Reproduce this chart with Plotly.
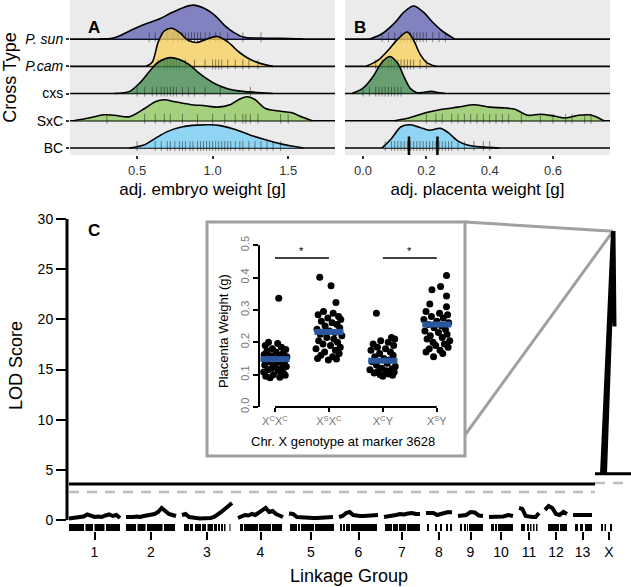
import plotly.graph_objects as go

W, H = 631, 587
FONT = "Liberation Sans, Arial, Helvetica, sans-serif"

# ---------------- Panels A / B : ridgeline data ----------------
cross_types = ["P. sun", "P.cam", "cxs", "SxC", "BC"]
cross_ticktext = ["<i>P. sun</i>", "<i>P.cam</i>", "cxs", "SxC", "BC"]
ridge_colors = ["rgba(92,96,178,0.75)", "rgba(250,208,88,0.75)", "rgba(62,135,75,0.75)",
                "rgba(142,199,88,0.75)", "rgba(112,204,244,0.75)"]

# adj. embryo weight densities (x in g, relative height)
emb_psun_x = [0.25, 0.35, 0.45, 0.55, 0.65, 0.72, 0.80, 0.87, 0.95, 1.02, 1.08, 1.14, 1.20, 1.30, 1.45, 1.60]
emb_psun_h = [0, 0.05, 0.30, 0.55, 0.75, 0.95, 1.15, 1.25, 1.12, 0.85, 0.50, 0.25, 0.08, 0.04, 0.03, 0]
emb_pcam_x = [0.56, 0.60, 0.64, 0.68, 0.73, 0.78, 0.84, 0.90, 0.96, 1.03, 1.10, 1.18, 1.25, 1.32, 1.40]
emb_pcam_h = [0, 0.15, 0.90, 1.30, 1.40, 1.25, 0.95, 0.88, 1.00, 1.10, 0.90, 0.50, 0.25, 0.10, 0]
emb_cxs_x = [0.35, 0.45, 0.52, 0.58, 0.64, 0.72, 0.78, 0.84, 0.90, 0.96, 1.03, 1.10, 1.20, 1.30, 1.40]
emb_cxs_h = [0, 0.08, 0.40, 0.80, 1.15, 1.32, 1.25, 1.08, 0.80, 0.55, 0.32, 0.18, 0.08, 0.04, 0]
emb_sxc_x = [0.08, 0.18, 0.28, 0.35, 0.45, 0.55, 0.62, 0.68, 0.75, 0.85, 0.95, 1.03, 1.12, 1.18,
             1.23, 1.28, 1.35, 1.45, 1.52, 1.60, 1.66]
emb_sxc_h = [0, 0.10, 0.22, 0.20, 0.15, 0.45, 0.70, 0.77, 0.70, 0.60, 0.55, 0.50, 0.60, 0.80,
             0.88, 0.78, 0.45, 0.35, 0.30, 0.12, 0]
emb_bc_x = [0.45, 0.55, 0.62, 0.70, 0.80, 0.90, 0.98, 1.05, 1.15, 1.25, 1.35, 1.45, 1.52, 1.60]
emb_bc_h = [0, 0.12, 0.35, 0.60, 0.78, 0.84, 0.85, 0.82, 0.68, 0.47, 0.30, 0.15, 0.07, 0]

emb_rug_psun = [0.58, 0.62, 0.66, 0.70, 0.74, 0.77, 0.80, 0.82, 0.84, 0.86, 0.88, 0.90, 0.92, 0.95,
                0.98, 1.02, 1.05, 1.10, 1.20, 1.32]
emb_rug_pcam = [0.64, 0.68, 0.70, 0.72, 0.74, 0.76, 0.78, 0.82, 0.88, 0.95, 1.00, 1.02, 1.04, 1.06,
                1.10, 1.15, 1.20, 1.24, 1.30]
emb_rug_cxs = [0.50, 0.55, 0.60, 0.63, 0.66, 0.68, 0.70, 0.72, 0.74, 0.76, 0.80, 0.84, 0.88, 0.95,
               1.05, 1.25]
emb_rug_sxc = [0.30, 0.55, 0.62, 0.68, 0.72, 0.80, 0.90, 1.00, 1.08, 1.15, 1.20, 1.22, 1.25, 1.30,
               1.45, 1.50]
emb_rug_bc = [0.50, 0.62, 0.66, 0.70, 0.72, 0.75, 0.78, 0.80, 0.82, 0.85, 0.87, 0.90, 0.92, 0.94,
              0.96, 0.98, 1.00, 1.02, 1.04, 1.06, 1.08, 1.10, 1.12, 1.15, 1.18, 1.20, 1.24, 1.28,
              1.32, 1.36, 1.40, 1.45]

# adj. placenta weight densities
pla_psun_x = [0.02, 0.06, 0.10, 0.13, 0.16, 0.19, 0.22, 0.25, 0.29]
pla_psun_h = [0, 0.20, 0.60, 1.00, 1.22, 1.00, 0.62, 0.30, 0]
pla_pcam_x = [0.01, 0.05, 0.08, 0.11, 0.14, 0.16, 0.18, 0.20, 0.23]
pla_pcam_h = [0, 0.25, 0.60, 1.00, 1.26, 0.95, 0.45, 0.15, 0]
pla_cxs_x = [-0.035, 0.0, 0.03, 0.06, 0.085, 0.11, 0.13, 0.15, 0.17, 0.19, 0.215, 0.24, 0.26]
pla_cxs_h = [0, 0.20, 0.60, 1.15, 1.36, 1.10, 0.60, 0.18, 0.03, 0.04, 0.08, 0.03, 0]
pla_sxc_x = [0.10, 0.15, 0.20, 0.25, 0.30, 0.35, 0.40, 0.45, 0.48, 0.52, 0.56, 0.60, 0.64, 0.68, 0.72, 0.76]
pla_sxc_h = [0, 0.12, 0.30, 0.42, 0.50, 0.59, 0.50, 0.47, 0.42, 0.20, 0.24, 0.18, 0.10, 0.20, 0.21, 0]
pla_bc_x = [0.06, 0.09, 0.12, 0.15, 0.18, 0.21, 0.245, 0.27, 0.30, 0.33, 0.37, 0.43]
pla_bc_h = [0, 0.35, 0.78, 0.85, 0.75, 0.65, 0.72, 0.55, 0.25, 0.11, 0.04, 0]

pla_rug_psun = [0.06, 0.08, 0.10, 0.12, 0.13, 0.14, 0.15, 0.16, 0.17, 0.18, 0.19, 0.20, 0.22, 0.24, 0.26]
pla_rug_pcam = [0.04, 0.06, 0.08, 0.09, 0.10, 0.11, 0.12, 0.13, 0.14, 0.15, 0.16, 0.18, 0.20]
pla_rug_cxs = [0.00, 0.02, 0.04, 0.05, 0.06, 0.07, 0.08, 0.09, 0.10, 0.11, 0.12]
pla_rug_sxc = [0.20, 0.23, 0.25, 0.28, 0.30, 0.32, 0.34, 0.36, 0.38, 0.40, 0.42, 0.44, 0.46, 0.50,
               0.56, 0.60, 0.64, 0.66, 0.70, 0.72]
pla_rug_bc = [0.07, 0.09, 0.10, 0.11, 0.12, 0.13, 0.14, 0.15, 0.16, 0.17, 0.18, 0.19, 0.20, 0.21,
              0.22, 0.23, 0.24, 0.25, 0.26, 0.27, 0.28, 0.30, 0.32, 0.35, 0.38, 0.40]
pla_bc_marks = [0.145, 0.235]

emb_ticks = [0.5, 1.0, 1.5]
pla_ticks = [0.0, 0.2, 0.4, 0.6]

# ---------------- Panel C : QTL scan ----------------
chroms = ["1", "2", "3", "4", "5", "6", "7", "8", "9", "10", "11", "12", "13", "X"]
chrom_len = [51, 50, 50, 45, 44, 39, 36, 26, 25, 24, 20, 22, 19, 22]
lod_auto = [
    [0.15, 0.2, 0.2, 0.3, 0.35, 0.55, 0.4, 0.3, 0.35, 0.3, 0.45, 0.55, 0.4, 0.5, 0.2],
    [0.3, 0.25, 0.3, 0.35, 0.3, 0.4, 0.45, 0.5, 0.6, 0.8, 1.2, 0.9, 0.6, 0.5, 0.4],
    [0.5, 0.6, 0.3, 0.2, 0.2, 0.15, 0.15, 0.2, 0.2, 0.3, 0.5, 0.8, 1.1, 1.4, 1.7],
    [0.2, 0.3, 0.5, 0.45, 0.6, 0.5, 0.7, 0.9, 1.2, 0.8, 0.9, 0.6, 0.4, 0.3],
    [0.65, 0.6, 0.3, 0.25, 0.2, 0.2, 0.2, 0.2, 0.2, 0.2, 0.25, 0.3],
    [0.3, 0.4, 0.7, 0.8, 0.5, 0.4, 0.4, 0.4, 0.4, 0.45, 0.5, 0.5],
    [0.3, 0.35, 0.4, 0.5, 0.6, 0.55, 0.65, 0.7, 0.6, 0.6],
    [0.7, 0.75, 0.7, 0.5, 0.55, 0.7, 0.8, 0.75],
    [0.4, 0.45, 0.5, 0.8, 0.75, 0.45, 0.4],
    [0.3, 0.3, 0.35, 0.35, 0.5, 0.4],
    [1.2, 1.1, 0.4, 0.3, 0.3, 0.3, 0.7],
    [1.0, 1.4, 1.2, 0.6, 0.5, 0.8, 0.6],
    [0.5, 0.5, 0.5, 0.5, 0.5],
]
lod_x_pos = [4, 15, 7, 15.5, 16.5]          # cM within X
lod_x_val = [4.6, 28.8, 4.6, 28.8, 19.3]
thr_solid = [3.6, 4.6]                      # autosomes, X
thr_dashed = [2.8, 3.7]
marker_blocks = [
    [[0, 15], [16.5, 24], [25.5, 35.5], [37, 51]],
    [[0, 10], [11.5, 19.5], [21, 36.5], [38, 49]],
    [[2, 7], [8, 11], [13, 19], [20, 24], [25.5, 31], [32, 35], [36, 38], [39, 41], [42, 43.5], [47.5, 48.5]],
    [[2, 5], [6, 20], [21, 33], [34, 44]],
    [[1, 8], [9, 11], [12, 25], [26, 45]],
    [[1, 3], [4, 6], [7, 11], [12, 38]],
    [[1, 8], [9, 14], [15, 22], [23, 36]],
    [[1, 3], [9, 11], [14, 16], [20, 22], [24, 26]],
    [[2, 4], [6, 8], [9, 10], [11, 25]],
    [[2, 5], [6, 8], [9, 24]],
    [[2, 6], [8, 10], [11, 12.5], [14, 15.5], [17, 18.5]],
    [[3, 14], [15, 22]],
    [[2, 5], [7, 10], [12, 19]],
    [[3, 5], [6.5, 8], [12, 14]],
]

# ---------------- Inset : placenta weight by genotype ----------------
genotypes = ["X<sup>C</sup>X<sup>C</sup>", "X<sup>S</sup>X<sup>C</sup>", "X<sup>C</sup>Y", "X<sup>S</sup>Y"]
pw_xcxc = [0.336, 0.200, 0.196, 0.190, 0.185, 0.180, 0.178, 0.172, 0.170, 0.165, 0.162, 0.160, 0.158,
           0.155, 0.150, 0.148, 0.145, 0.142, 0.140, 0.138, 0.135, 0.130, 0.128, 0.125, 0.120, 0.118,
           0.115, 0.112, 0.108, 0.105, 0.100, 0.098, 0.095, 0.092, 0.090]
jit_xcxc = [0.07, -0.12, 0.05, -0.18, 0.12, -0.05, 0.20, -0.15, 0.02, 0.15, -0.20, 0.08, -0.08, 0.22,
            -0.02, 0.10, -0.16, 0.18, -0.10, 0.04, 0.14, -0.19, 0.00, 0.21, -0.06, 0.11, -0.13, 0.06,
            -0.21, 0.16, -0.03, 0.19, -0.17, 0.09, -0.09]
pw_xsxc = [0.401, 0.375, 0.323, 0.295, 0.290, 0.285, 0.280, 0.275, 0.270, 0.265, 0.260, 0.255, 0.250,
           0.245, 0.240, 0.235, 0.230, 0.225, 0.220, 0.215, 0.210, 0.205, 0.200, 0.195, 0.190, 0.185,
           0.180, 0.175, 0.170, 0.165, 0.160, 0.155, 0.150, 0.148, 0.145]
jit_xsxc = [-0.17, 0.04, 0.13, -0.10, 0.08, -0.20, 0.18, -0.02, 0.22, -0.14, 0.06, 0.15, -0.07, 0.20,
            -0.22, 0.01, 0.11, -0.16, 0.24, -0.04, 0.09, -0.19, 0.16, -0.11, 0.03, 0.21, -0.24, 0.12,
            -0.08, 0.19, -0.15, 0.07, -0.21, 0.14, -0.01]
pw_xcy = [0.290, 0.215, 0.210, 0.205, 0.200, 0.195, 0.190, 0.185, 0.180, 0.175, 0.170, 0.165, 0.160,
          0.155, 0.150, 0.145, 0.140, 0.135, 0.130, 0.125, 0.120, 0.118, 0.115, 0.112, 0.110, 0.108,
          0.105, 0.102, 0.100, 0.098, 0.095]
jit_xcy = [-0.12, 0.16, 0.22, -0.04, 0.10, -0.18, 0.20, -0.10, 0.05, -0.22, 0.14, -0.06, 0.19, -0.15,
           0.02, 0.12, -0.20, 0.08, -0.12, 0.23, -0.02, 0.17, -0.24, 0.06, -0.09, 0.21, -0.16, 0.11,
           -0.05, 0.18, 0.00]
pw_xsy = [0.406, 0.372, 0.362, 0.343, 0.318, 0.310, 0.295, 0.290, 0.285, 0.280, 0.275, 0.270, 0.265,
          0.260, 0.255, 0.250, 0.245, 0.240, 0.235, 0.230, 0.225, 0.220, 0.215, 0.210, 0.205, 0.200,
          0.195, 0.190, 0.185, 0.180, 0.175, 0.170, 0.165, 0.155]
jit_xsy = [0.18, 0.07, -0.09, 0.18, -0.13, 0.18, -0.20, 0.05, 0.20, -0.10, 0.12, -0.24, 0.00, 0.22,
           -0.16, 0.09, -0.05, 0.16, -0.22, 0.03, 0.19, -0.12, 0.10, -0.18, 0.24, -0.07, 0.14, -0.02,
           0.21, -0.14, 0.06, -0.20, 0.11, -0.06]
pw_means = [0.148, 0.232, 0.143, 0.255]
sig_pairs = [(1, 2), (3, 4)]
sig_y = 0.46

# ================= helpers =================
def px_x(px):
    return px / W


def px_y(py):
    return 1 - py / H


fig = go.Figure()
A_range = [0.056, 1.81]
B_range = [-0.057, 0.78]
ridge_yrange = [-0.26, 5.44]

emb_sets = [(emb_psun_x, emb_psun_h, emb_rug_psun), (emb_pcam_x, emb_pcam_h, emb_rug_pcam),
            (emb_cxs_x, emb_cxs_h, emb_rug_cxs), (emb_sxc_x, emb_sxc_h, emb_rug_sxc),
            (emb_bc_x, emb_bc_h, emb_rug_bc)]
pla_sets = [(pla_psun_x, pla_psun_h, pla_rug_psun), (pla_pcam_x, pla_pcam_h, pla_rug_pcam),
            (pla_cxs_x, pla_cxs_h, pla_rug_cxs), (pla_sxc_x, pla_sxc_h, pla_rug_sxc),
            (pla_bc_x, pla_bc_h, pla_rug_bc)]

for i, name in enumerate(cross_types):
    base = len(cross_types) - 1 - i
    for (xa, ya, xr, sets) in [("x", "y", A_range, emb_sets), ("x2", "y2", B_range, pla_sets)]:
        xs, hs, rug = sets[i]
        fig.add_trace(go.Scatter(x=xr, y=[base, base], mode="lines", xaxis=xa, yaxis=ya,
                                 line=dict(color="black", width=1.6), hoverinfo="skip", showlegend=False))
        fig.add_trace(go.Scatter(x=xs, y=[base + h for h in hs], mode="lines", fill="toself",
                                 fillcolor=ridge_colors[i], xaxis=xa, yaxis=ya, name=name,
                                 line=dict(color="black", width=1.6, shape="spline", smoothing=0.9),
                                 showlegend=False))
        fig.add_trace(go.Scatter(x=rug, y=[base + 0.07] * len(rug), mode="markers", xaxis=xa, yaxis=ya,
                                 marker=dict(symbol="line-ns", size=7,
                                             line=dict(width=1, color="rgba(30,30,30,0.5)")),
                                 hoverinfo="skip", showlegend=False))

# BC placenta quantile marks
for v in pla_bc_marks:
    fig.add_trace(go.Scatter(x=[v, v], y=[ridge_yrange[0], 0.42], mode="lines", xaxis="x2", yaxis="y2",
                             line=dict(color="black", width=2.5), hoverinfo="skip", showlegend=False))

# ---------- Panel C ----------
gap = 6
starts = []
pos = 2
for L in chrom_len:
    starts.append(pos)
    pos += L + gap
C_range = [0, 564]
C_yrange = [(520 - 531) / 10.03, (520 - 200) / 10.03]
mids = [s + L / 2 for s, L in zip(starts, chrom_len)]

lx, ly = [], []
for s, L, vals in zip(starts, chrom_len, lod_auto):
    n = len(vals)
    lx += [s + L * k / (n - 1) for k in range(n)] + [None]
    ly += vals + [None]
lx += [starts[-1] + p for p in lod_x_pos]
ly += lod_x_val
fig.add_trace(go.Scatter(x=lx, y=ly, mode="lines", xaxis="x3", yaxis="y3",
                         line=dict(color="black", width=4), name="LOD", showlegend=False))

# marker rug
rx, ry = [], []
for s, blocks in zip(starts, marker_blocks):
    for a, b in blocks:
        rx += [s + a, s + b, None]
        ry += [-0.75, -0.75, None]
fig.add_trace(go.Scatter(x=rx, y=ry, mode="lines", xaxis="x3", yaxis="y3",
                         line=dict(color="black", width=7), hoverinfo="skip", showlegend=False))

# thresholds
auto_end = (starts[-2] + chrom_len[-2] + starts[-1]) / 2
seg = [(starts[0], auto_end), (auto_end, C_range[1])]
for (a, b), t in zip(seg, thr_dashed):
    fig.add_trace(go.Scatter(x=[a, b], y=[t, t], mode="lines", xaxis="x3", yaxis="y3",
                             line=dict(color="#bdbdbd", width=2.5, dash="10px,8px"),
                             hoverinfo="skip", showlegend=False))
for (a, b), t in zip(seg, thr_solid):
    fig.add_trace(go.Scatter(x=[a, b], y=[t, t], mode="lines", xaxis="x3", yaxis="y3",
                             line=dict(color="black", width=3), hoverinfo="skip", showlegend=False))

# ---------- Inset ----------
groups = [(pw_xcxc, jit_xcxc), (pw_xsxc, jit_xsxc), (pw_xcy, jit_xcy), (pw_xsy, jit_xsy)]
for gi, (vals, jit) in enumerate(groups):
    fig.add_trace(go.Scatter(x=[gi + 1 + j for j in jit], y=vals, mode="markers", xaxis="x4", yaxis="y4",
                             marker=dict(color="black", size=7), showlegend=False,
                             name=genotypes[gi]))
for gi, m in enumerate(pw_means):
    fig.add_trace(go.Scatter(x=[gi + 1 - 0.27, gi + 1 + 0.27], y=[m, m], mode="lines", xaxis="x4", yaxis="y4",
                             line=dict(color="#2b579e", width=6), hoverinfo="skip", showlegend=False))
for a, b in sig_pairs:
    fig.add_trace(go.Scatter(x=[a, b], y=[sig_y, sig_y], mode="lines", xaxis="x4", yaxis="y4",
                             line=dict(color="black", width=1.5), hoverinfo="skip", showlegend=False))

I_xrange = [0.704, 4.43]
I_yrange = [0, 0.516]
I_xdom = [px_x(259), px_x(460)]
I_ydom = [px_y(407), px_y(240)]

shapes = [
    dict(type="rect", xref="paper", yref="paper", x0=px_x(70), x1=px_x(335), y0=px_y(155), y1=px_y(0),
         fillcolor="#ebebeb", line=dict(width=0), layer="below"),
    dict(type="rect", xref="paper", yref="paper", x0=px_x(345), x1=px_x(610), y0=px_y(155), y1=px_y(0),
         fillcolor="#ebebeb", line=dict(width=0), layer="below"),
    dict(type="rect", xref="paper", yref="paper", x0=px_x(207), x1=px_x(465), y0=px_y(456), y1=px_y(222),
         fillcolor="white", line=dict(color="#a0a0a0", width=3), layer="below"),
    dict(type="line", xref="x3 domain", yref="y3", x0=0, x1=0, y0=0, y1=30,
         line=dict(color="black", width=3)),
    dict(type="line", xref="x4", yref="y4 domain", x0=1, x1=4, y0=0, y1=0,
         line=dict(color="black", width=2)),
    dict(type="line", xref="x4 domain", yref="y4", x0=0, x1=0, y0=0, y1=0.5,
         line=dict(color="black", width=2)),
]
# connector lines from inset to X peak
C_xdom = [px_x(67), px_x(631)]
C_ydom = [px_y(531), px_y(200)]
peak_i = lod_x_val.index(max(lod_x_val))
peak_x = starts[-1] + lod_x_pos[peak_i]
peak_y = lod_x_val[peak_i]
pxp = C_xdom[0] + (peak_x - C_range[0]) / (C_range[1] - C_range[0]) * (C_xdom[1] - C_xdom[0])
pyp = C_ydom[0] + (peak_y - C_yrange[0]) / (C_yrange[1] - C_yrange[0]) * (C_ydom[1] - C_ydom[0])
for cy in [222, 435]:
    shapes.append(dict(type="line", xref="paper", yref="paper", x0=px_x(465), y0=px_y(cy), x1=pxp, y1=pyp,
                       line=dict(color="#a0a0a0", width=3), layer="below"))

annotations = [
    dict(text="<b>A</b>", x=px_x(86), y=px_y(16), xref="paper", yref="paper", showarrow=False,
         font=dict(size=17, color="black")),
    dict(text="<b>B</b>", x=px_x(360), y=px_y(16), xref="paper", yref="paper", showarrow=False,
         font=dict(size=17, color="black")),
    dict(text="<b>C</b>", x=px_x(86), y=px_y(230), xref="paper", yref="paper", showarrow=False,
         font=dict(size=17, color="black")),
    dict(text="Chr. X genotype at marker 3628", x=px_x(343), y=px_y(432), xref="paper", yref="paper",
         yanchor="top", showarrow=False, font=dict(size=13, color="black")),
    dict(text="Placenta Weight (g)", x=px_x(223), y=px_y(331), xref="paper", yref="paper",
         showarrow=False, textangle=-90, font=dict(size=13, color="black")),
]
for a, b in sig_pairs:
    annotations.append(dict(text="*", x=(a + b) / 2, y=sig_y, xref="x4", yref="y4", yshift=7,
                            showarrow=False, font=dict(size=11, color="black")))

tick_common = dict(showgrid=False, zeroline=False, automargin=False, showline=False)

fig.update_layout(
    width=W, height=H, margin=dict(l=0, r=0, t=0, b=0),
    paper_bgcolor="white", plot_bgcolor="rgba(0,0,0,0)",
    font=dict(family=FONT, color="black"),
    showlegend=False,
    shapes=shapes, annotations=annotations,
    xaxis=dict(domain=[px_x(70), px_x(335)], range=A_range, anchor="y",
               tickvals=emb_ticks, ticktext=["%.1f" % v for v in emb_ticks],
               ticks="outside", ticklen=3, tickwidth=2, tickcolor="#333",
               tickfont=dict(size=13, color="#333"),
               title=dict(text="adj. embryo weight [g]", font=dict(size=17), standoff=6), **tick_common),
    yaxis=dict(domain=[px_y(155), px_y(0)], range=ridge_yrange, anchor="x",
               tickvals=[4, 3, 2, 1, 0], ticktext=cross_ticktext,
               ticks="outside", ticklen=3, tickwidth=2, tickcolor="#333",
               tickfont=dict(size=14, color="black"),
               title=dict(text="Cross Type", font=dict(size=18), standoff=4), **tick_common),
    xaxis2=dict(domain=[px_x(345), px_x(610)], range=B_range, anchor="y2",
                tickvals=pla_ticks, ticktext=["%.1f" % v for v in pla_ticks],
                ticks="outside", ticklen=3, tickwidth=2, tickcolor="#333",
                tickfont=dict(size=13, color="#333"),
                title=dict(text="adj. placenta weight [g]", font=dict(size=17), standoff=6), **tick_common),
    yaxis2=dict(domain=[px_y(155), px_y(0)], range=ridge_yrange, anchor="x2",
                showticklabels=False, ticks="", **tick_common),
    xaxis3=dict(domain=C_xdom, range=C_range, anchor="y3",
                tickvals=mids, ticktext=chroms, ticks="outside", ticklen=8, tickwidth=2, tickcolor="black",
                tickfont=dict(size=14),
                title=dict(text="Linkage Group", font=dict(size=18), standoff=10), **tick_common),
    yaxis3=dict(domain=C_ydom, range=C_yrange, anchor="x3",
                tickvals=[0, 5, 10, 15, 20, 25, 30], ticks="outside", ticklen=10, tickwidth=2,
                tickcolor="black", tickfont=dict(size=14),
                title=dict(text="LOD Score", font=dict(size=18), standoff=10), **tick_common),
    xaxis4=dict(domain=I_xdom, range=I_xrange, anchor="y4",
                tickvals=[1, 2, 3, 4], ticktext=genotypes, ticks="outside", ticklen=4, tickwidth=2,
                tickcolor="black", tickfont=dict(size=11, color="#777"), **tick_common),
    yaxis4=dict(domain=I_ydom, range=I_yrange, anchor="x4",
                tickvals=[0, 0.1, 0.2, 0.3, 0.4, 0.5], ticktext=["0.0", "0.1", "0.2", "0.3", "0.4", "0.5"],
                ticks="outside", ticklen=5, tickwidth=2, tickcolor="black", tickangle=-90,
                tickfont=dict(size=11, color="#777"), **tick_common),
)

fig.write_html("out.html", config={"displayModeBar": False, "staticPlot": True},
               post_script="document.body.style.margin='0px';document.body.style.padding='0px';"
                           "document.body.style.overflow='hidden';")
